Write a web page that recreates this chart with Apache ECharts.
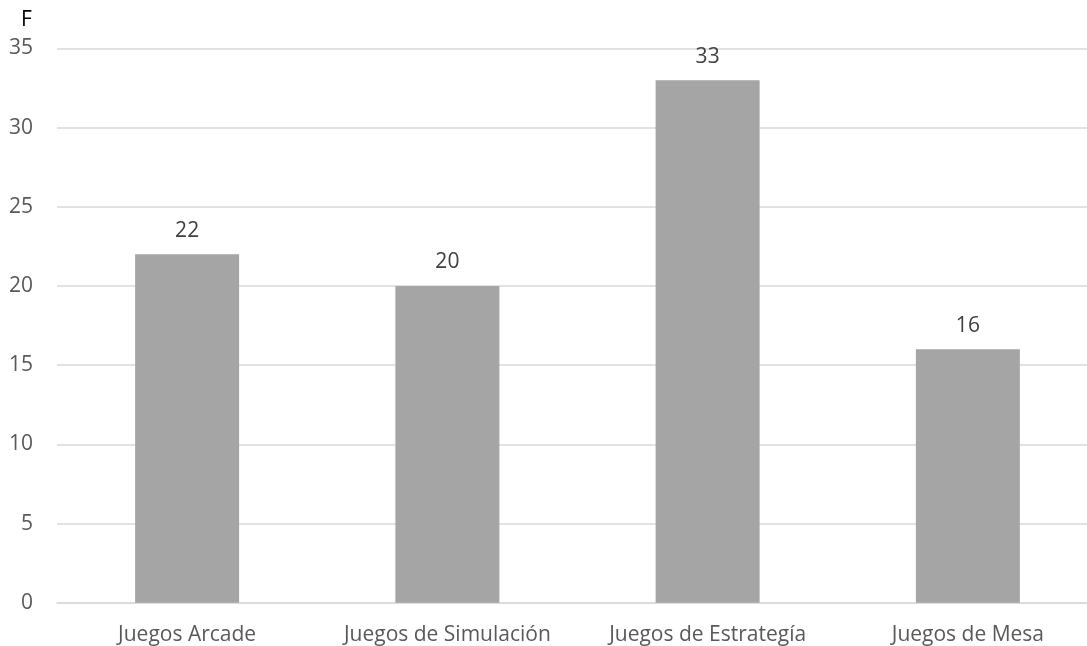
<!DOCTYPE html>
<html>
<head>
<meta charset="utf-8">
<script src="https://cdn.jsdelivr.net/npm/echarts@6/dist/echarts.min.js"></script>
<style>
html, body { margin: 0; padding: 0; background: #ffffff; }
#chart { width: 1087px; height: 646px; }
</style>
</head>
<body>
<div id="chart"></div>
<script>
// Game categories and their frequencies
const categories = ['Juegos Arcade', 'Juegos de Simulación', 'Juegos de Estrategía', 'Juegos de Mesa'];
const frequencies = [22, 20, 33, 16];
const yAxisName = 'F';

const chart = echarts.init(document.getElementById('chart'), null, { renderer: 'canvas' });
const font = '"Open Sans", "Noto Sans", sans-serif';

chart.setOption({
  animation: false,
  backgroundColor: '#ffffff',
  grid: { left: 57, top: 48.5, right: -11, bottom: 43.3, containLabel: false, outerBoundsMode: 'none' },
  graphic: [{
    type: 'text',
    left: 21,
    top: 10,
    style: { text: yAxisName, fill: '#000000', font: '21px ' + font }
  }],
  xAxis: {
    type: 'category',
    data: categories,
    axisLine: { show: true, lineStyle: { color: '#d9d9d9', width: 1.5 } },
    axisTick: { show: false },
    axisLabel: { color: '#595959', fontFamily: font, fontSize: 21, margin: 22, interval: 0, hideOverlap: false }
  },
  yAxis: {
    type: 'value',
    min: 0,
    max: 35,
    interval: 5,
    axisLine: { show: false },
    axisTick: { show: false },
    splitLine: { lineStyle: { color: '#d9d9d9', width: 1.5 } },
    axisLabel: { color: '#595959', fontFamily: font, fontSize: 21, margin: 24 }
  },
  series: [{
    type: 'bar',
    data: frequencies,
    barWidth: 104,
    itemStyle: { color: '#a5a5a5' },
    label: {
      show: true,
      position: 'top',
      distance: 13,
      color: '#404040',
      fontFamily: font,
      fontSize: 21
    }
  }]
});
</script>
</body>
</html>
